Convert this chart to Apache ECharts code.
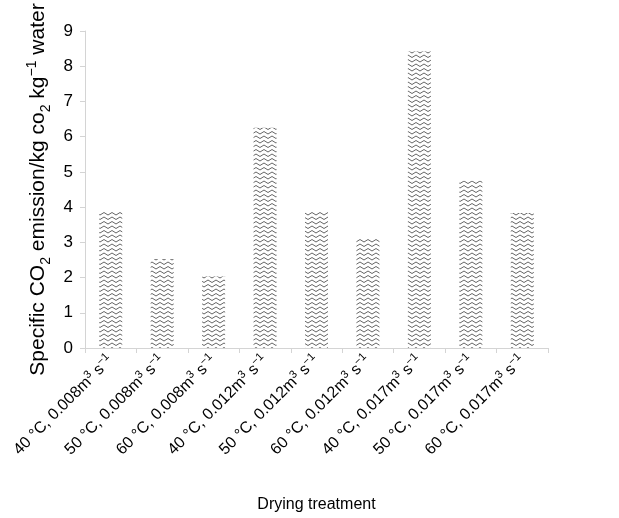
<!DOCTYPE html>
<html>
<head>
<meta charset="utf-8">
<script src="https://cdn.jsdelivr.net/npm/echarts@6/dist/echarts.min.js"></script>
<style>
  html, body { margin: 0; padding: 0; background: #fff; }
  #chart { width: 619px; height: 518px; }
</style>
</head>
<body>
<div id="chart"></div>
<script>
// Drying treatments: air temperature and air flow rate
const temperatures = ['40', '50', '60', '40', '50', '60', '40', '50', '60'];
const flowRates = ['0.008', '0.008', '0.008', '0.012', '0.012', '0.012', '0.017', '0.017', '0.017'];
// Specific CO2 emission, kg CO2 per kg water removed
const emissions = [3.88, 2.53, 2.03, 6.25, 3.89, 3.10, 8.42, 4.75, 3.83];
const yTicks = [0, 1, 2, 3, 4, 5, 6, 7, 8, 9];

const categories = temperatures.map((t, i) => t + '|' + flowRates[i]);

const FONT = '"Liberation Sans", Arial, Helvetica, sans-serif';

// Zig-zag hatch fill used for the bars
function zigzagPattern() {
  const c = document.createElement('canvas');
  c.width = 8; c.height = 9;
  const g = c.getContext('2d');
  g.fillStyle = '#ffffff';
  g.fillRect(0, 0, 8, 9);
  g.strokeStyle = '#666666';
  g.lineWidth = 1;
  [0, 4.5].forEach(off => {
    g.beginPath();
    g.moveTo(-4, off + 3.5);
    g.lineTo(0, off + 1);
    g.lineTo(4, off + 3.5);
    g.lineTo(8, off + 1);
    g.lineTo(12, off + 3.5);
    g.stroke();
  });
  return c;
}

const chart = echarts.init(document.getElementById('chart'), null, { renderer: 'canvas' });

chart.setOption({
  animation: false,
  backgroundColor: '#ffffff',
  textStyle: { fontFamily: FONT },
  grid: { left: 85, top: 31, width: 463, height: 323, containLabel: false },
  xAxis: {
    type: 'category',
    data: categories,
    axisLine: { show: true, lineStyle: { color: '#d4d4d4', width: 1 } },
    axisTick: { show: true, length: 5, lineStyle: { color: '#d4d4d4' } },
    axisLabel: {
      rotate: 45,
      margin: 10,
      interval: 0,
      color: '#000',
      fontFamily: FONT,
      formatter: v => {
        const [t, f] = v.split('|');
        return '{n|' + t + ' °C, ' + f + 'm}{p|3}{n| s}{p|−1}';
      },
      rich: {
        n: { fontSize: 16, fontFamily: FONT, color: '#000', lineHeight: 20 },
        p: { fontSize: 11, fontFamily: FONT, color: '#000', verticalAlign: 'top', lineHeight: 20 }
      }
    },
    name: 'Drying treatment',
    nameLocation: 'middle',
    nameGap: 149,
    nameTextStyle: { fontSize: 16, color: '#000', fontFamily: FONT }
  },
  yAxis: {
    type: 'value',
    min: yTicks[0],
    max: yTicks[yTicks.length - 1],
    interval: 1,
    axisLine: { show: true, lineStyle: { color: '#d4d4d4', width: 1 } },
    axisTick: { show: true, length: 5, lineStyle: { color: '#d4d4d4' } },
    splitLine: { show: false },
    axisLabel: { fontSize: 17, color: '#000', margin: 12, fontFamily: FONT },
    name: '{n|Specific CO}{s|2}{n| emission/kg co}{s|2}{n| kg}{p|−1}{n| water}',
    nameLocation: 'middle',
    nameRotate: 90,
    nameGap: 30,
    nameTextStyle: {
      rich: {
        n: { fontSize: 21, fontFamily: FONT, color: '#000', lineHeight: 28 },
        s: { fontSize: 14, fontFamily: FONT, color: '#000', verticalAlign: 'bottom', lineHeight: 28 },
        p: { fontSize: 14, fontFamily: FONT, color: '#000', verticalAlign: 'top', lineHeight: 28 }
      }
    }
  },
  series: [{
    type: 'bar',
    data: emissions,
    barWidth: 23,
    itemStyle: {
      color: { image: zigzagPattern(), repeat: 'repeat' }
    }
  }]
});
</script>
</body>
</html>
